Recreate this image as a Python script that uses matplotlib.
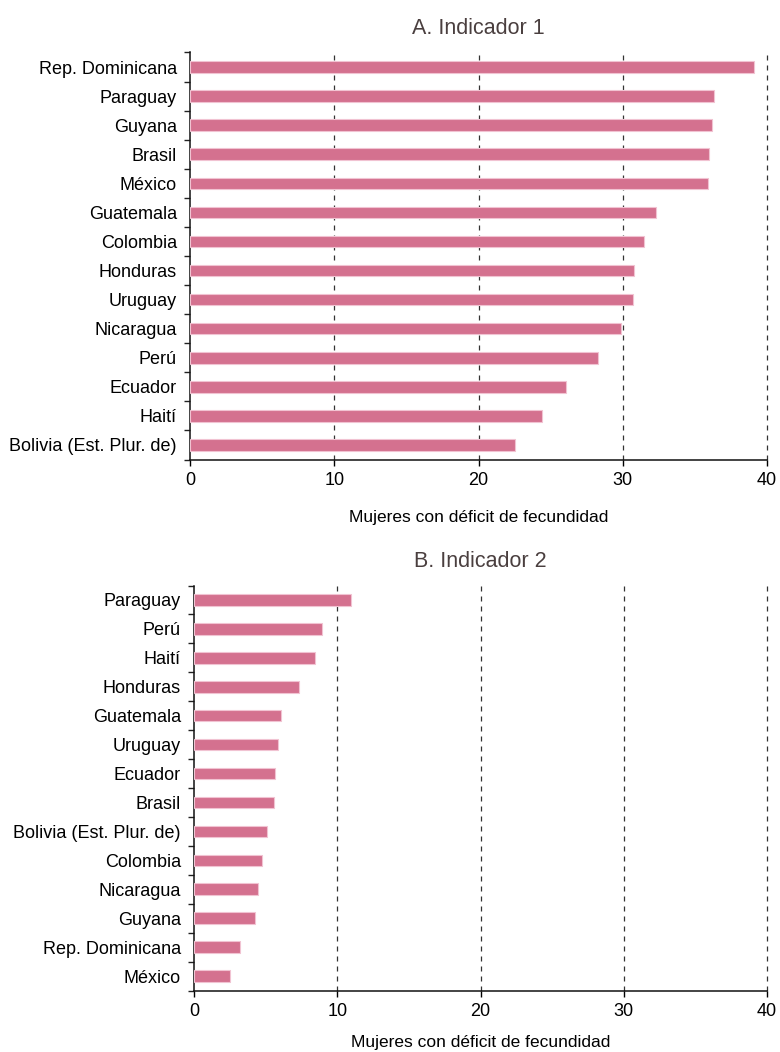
import matplotlib
matplotlib.use('Agg')
import matplotlib.pyplot as plt
import numpy as np

plt.rcParams['font.family'] = ['Liberation Sans', 'DejaVu Sans']

# Panel A data (top to bottom)
paises_a = ['Rep. Dominicana', 'Paraguay', 'Guyana', 'Brasil', 'México',
            'Guatemala', 'Colombia', 'Honduras', 'Uruguay', 'Nicaragua',
            'Perú', 'Ecuador', 'Haití', 'Bolivia (Est. Plur. de)']
valores_a = [39.1, 36.3, 36.2, 36.0, 35.9, 32.3, 31.5, 30.75, 30.7, 29.9,
             28.3, 26.05, 24.4, 22.5]

# Panel B data (top to bottom)
paises_b = ['Paraguay', 'Perú', 'Haití', 'Honduras', 'Guatemala', 'Uruguay',
            'Ecuador', 'Brasil', 'Bolivia (Est. Plur. de)', 'Colombia',
            'Nicaragua', 'Guyana', 'Rep. Dominicana', 'México']
valores_b = [10.93, 8.93, 8.44, 7.3, 6.05, 5.86, 5.67, 5.58, 5.09, 4.72,
             4.44, 4.23, 3.19, 2.51]

titulos = ['A. Indicador 1', 'B. Indicador 2']
xlabel = 'Mujeres con déficit de fecundidad'
xticks = [0, 10, 20, 30, 40]

BAR = '#d4718f'
BAR_EDGE = '#f1c3d2'
TITLE_C = '#4a3f3f'
W, H = 780, 1052


def panel(ax, paises, valores, titulo, lpad=15):
    y = np.arange(len(paises))
    ax.barh(y, valores, height=0.4, color=BAR, edgecolor=BAR_EDGE,
            linewidth=0.8, zorder=3)
    for v in xticks[1:]:
        ax.axvline(v, color='#333333', lw=0.9, ls=(0, (4, 4)), zorder=1,
                   clip_on=False)
    ax.set_xlim(0, 40)
    ax.set_ylim(len(paises) - 0.5, -0.5)
    ax.set_yticks(y)
    ax.set_yticklabels(paises, fontsize=13)
    ax.tick_params(axis='y', length=0, pad=9.5)
    ax.set_yticks(np.arange(len(paises) + 1) - 0.5, minor=True)
    ax.tick_params(axis='y', which='minor', length=4, width=1, color='#222222')
    ax.set_xticks(xticks)
    ax.tick_params(axis='x', length=4, width=1, labelsize=13, pad=5)
    for s in ['top', 'right']:
        ax.spines[s].set_visible(False)
    for s in ['left', 'bottom']:
        ax.spines[s].set_linewidth(1.1)
        ax.spines[s].set_color('#111111')
    ax.set_xlabel(xlabel, fontsize=12.5, labelpad=lpad)
    ax.set_title(titulo, fontsize=15.5, color=TITLE_C, pad=13)


fig = plt.figure(figsize=(W / 100, H / 100), dpi=100)
ax1 = fig.add_axes([190 / W, 1 - 459.5 / H, 577 / W, 407 / H])
ax2 = fig.add_axes([194 / W, 1 - 990.5 / H, 573 / W, 405 / H])
panel(ax1, paises_a, valores_a, titulos[0])
panel(ax2, paises_b, valores_b, titulos[1], lpad=11)

fig.savefig('out.png', dpi=100, facecolor='white')
